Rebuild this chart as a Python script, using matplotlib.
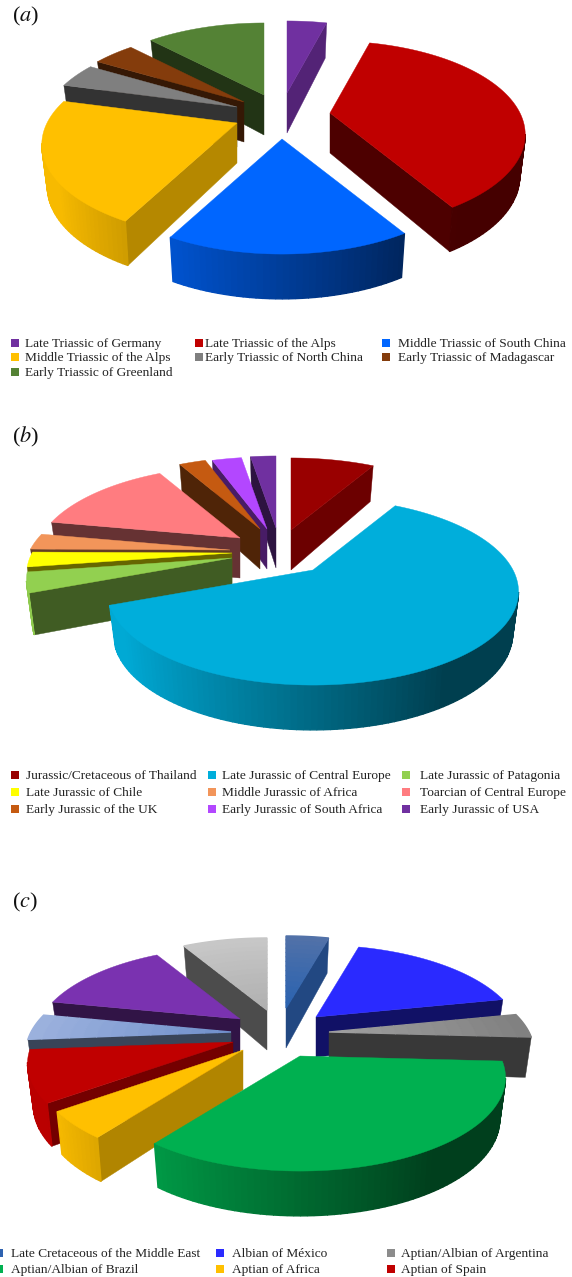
import numpy as np
import matplotlib
matplotlib.use("Agg")
import matplotlib.pyplot as plt
from matplotlib.colors import to_rgb

plt.rcParams['font.family'] = ['Liberation Serif', 'DejaVu Serif']
plt.rcParams['mathtext.fontset'] = 'stix'

# ---- data ----
labels_a = ["Late Triassic of Germany", "Late Triassic of the Alps", "Middle Triassic of South China",
            "Middle Triassic of the Alps", "Early Triassic of North China", "Early Triassic of Madagascar",
            "Early Triassic of Greenland"]
values_a = [4.1, 37.2, 16.4, 21.4, 4.3, 4.3, 12.2]
colors_a = ["#7030A0", "#C00000", "#0066FF", "#FFC000", "#7F7F7F", "#843C0C", "#548235"]

labels_b = ["Jurassic/Cretaceous of Thailand", "Late Jurassic of Central Europe", "Late Jurassic of Patagonia",
            "Late Jurassic of Chile", "Middle Jurassic of Africa", "Toarcian of Central Europe",
            "Early Jurassic of the UK", "Early Jurassic of South Africa", "Early Jurassic of USA"]
values_b = [8.2, 60.8, 3.5, 2.6, 2.8, 14.0, 2.6, 2.9, 2.5]
colors_b = ["#990000", "#00AEDB", "#92D050", "#FFFF00", "#F2955A", "#FF7C80", "#C55A11", "#B347FF", "#7030A0"]

labels_c = ["Late Cretaceous of the Middle East", "Albian of México", "Aptian/Albian of Argentina",
            "Aptian/Albian of Brazil", "Aptian of Africa", "Aptian of Spain"]
values_c = [4.2, 17.5, 4.2, 34.2, 4.7, 8.9, 4.5, 13.5, 8.3]
colors_c = ["#2E62B0", "#2A2AFF", "#8C8C8C", "#00B050", "#FFC000", "#C00000", "#8EA9DB", "#7A32B0", "#BDBDBD"]
inner_c = ["#2A62B0", None, "#A0A0A0", None, None, None, "#6F8FCB", None, "#B0B0B0"]
outer_c = ["#5272A8", None, "#808080", None, None, None, "#9DB2DE", None, "#C8C8C8"]

# ---- layout / style (pixels of the figure) ----
apex_a = [(287, 93), (330, 113), (282, 139), (237, 123), (237, 107), (244, 102), (264, 95)]
apex_b = [(291, 530), (313, 570), (232, 558), (232, 553), (230, 550), (240, 538), (260, 529), (267, 529), (276, 528)]
apex_c = [(286, 1008), (316, 1017), (329, 1032), (300, 1056), (243, 1050), (233, 1042), (231, 1032), (240, 1019), (267, 1010)]
HALF_HEIGHT = 88.6
PERSP = 0.23
DEPTH = 40


def project(apex, r, th, radius):
    d = 1 + PERSP * r * np.cos(th)
    x = apex[0] + radius * r * np.sin(th) / d
    y = apex[1] - HALF_HEIGHT * r * np.cos(th) / d
    return np.array([x, y])


def bottom(apex, r, th, radius):
    p = project(apex, r, th, radius)
    p[0] -= 0.03 * radius * r * np.sin(th)
    p[1] += DEPTH * (1 - 0.12 * r * np.cos(th))
    return p


def cross(a, b):
    return a[0] * b[1] - a[1] * b[0]


def faces_down(p, q, interior):
    e = q - p
    return cross(e, (0, 1)) * cross(e, interior - p) < 0


def shade(c, f):
    return tuple(np.clip(np.array(to_rgb(c)) * f, 0, 1))


def draw_pie(ax, values, colors, apexes, radius, inner=None, outer=None):
    v = np.asarray(values, float)
    edges = np.radians(np.concatenate([[0], np.cumsum(v) / v.sum() * 360]))
    order = sorted(range(len(v)), key=lambda i: project(apexes[i], 0.55, (edges[i] + edges[i + 1]) / 2, radius)[1])
    for base, i in enumerate(order):
        a, b = edges[i], edges[i + 1]
        apex, col = apexes[i], colors[i]
        mid = project(apex, 0.5, (a + b) / 2, radius)
        z = 2 + base
        # radial faces
        for th, sign in ((a, -1), (b, 1)):
            A, P = project(apex, 0, th, radius), project(apex, 1, th, radius)
            if faces_down(A, P, mid):
                phi = (np.degrees(th) + sign * 90) % 360
                f = np.interp(phi, [100, 132, 148, 162, 240], [.75, .68, .57, .40, .40])
                ax.fill(*zip(A, P, bottom(apex, 1, th, radius), bottom(apex, 0, th, radius)),
                        color=shade(col, f), lw=0.3, zorder=z)
        # outer wall
        ths = np.linspace(a, b, max(3, int((b - a) / np.radians(1.5))))
        for t1, t2 in zip(ths[:-1], ths[1:]):
            P1, P2 = project(apex, 1, t1, radius), project(apex, 1, t2, radius)
            if faces_down(P1, P2, np.array(project(apex, 0, t1, radius))):
                f = float(np.clip(.6 - .45 * np.sin((t1 + t2) / 2), .36, .97))
                ax.fill(*zip(P1, P2, bottom(apex, 1, t2, radius), bottom(apex, 1, t1, radius)),
                        color=shade(col, f), lw=1.0, zorder=z + 0.1)
        # top surface
        if inner is not None and inner[i] is not None:
            rr = np.linspace(0, 1, 16)
            for r1, r2 in zip(rr[:-1], rr[1:]):
                mix = (r1 + r2) / 2
                c = (1 - mix) * np.array(to_rgb(inner[i])) + mix * np.array(to_rgb(outer[i]))
                arc = np.linspace(a, b, 30)
                poly = [project(apex, r2, t, radius) for t in arc] + [project(apex, r1, t, radius) for t in arc[::-1]]
                ax.fill(*zip(*poly), color=tuple(c), lw=1.0, zorder=z + 0.2)
        else:
            arc = np.linspace(a, b, max(3, int((b - a) / np.radians(1.5))))
            poly = [project(apex, 0, a, radius)] + [project(apex, 1, t, radius) for t in arc]
            ax.fill(*zip(*poly), color=col, lw=0.3, zorder=z + 0.2)


def draw_legend(ax, labels, colors, sq_x, tx_x, rows):
    n = len(sq_x)
    for i, (lab, col) in enumerate(zip(labels, colors)):
        c, r = i % n, i // n
        ax.scatter([sq_x[c]], [rows[r]], marker='s', s=30, color=col, lw=0, zorder=30)
        ax.text(tx_x[c], rows[r] + 1, lab, fontsize=9.65, color='#222222', va='center', ha='left', zorder=30)


fig = plt.figure(figsize=(5.72, 12.77), dpi=100)
ax = fig.add_axes([0, 0, 1, 1])
ax.set_xlim(0, 572)
ax.set_ylim(1277, 0)
ax.axis('off')

draw_pie(ax, values_a, colors_a, apex_a, 190)
draw_pie(ax, values_b, colors_b, apex_b, 200)
draw_pie(ax, values_c, colors_c, apex_c, 200, inner_c, outer_c)

draw_legend(ax, labels_a, colors_a, (14.5, 198.5, 386), (25, 205, 398), (343, 357, 372))
draw_legend(ax, labels_b, colors_b, (15.3, 211.6, 406.4), (25.5, 222, 419.5), (775, 792, 809))
draw_legend(ax, labels_c, colors_c, (-1.5, 220, 391), (11, 232, 401), (1253, 1269))

for y, s in ((16, r'($\mathit{a}$)'), (437, r'($\mathit{b}$)'), (902, r'($\mathit{c}$)')):
    ax.text(12, y, s, fontsize=16, color='#111111', va='center', ha='left', zorder=30)

fig.savefig('out.png', dpi=100, facecolor='white')
